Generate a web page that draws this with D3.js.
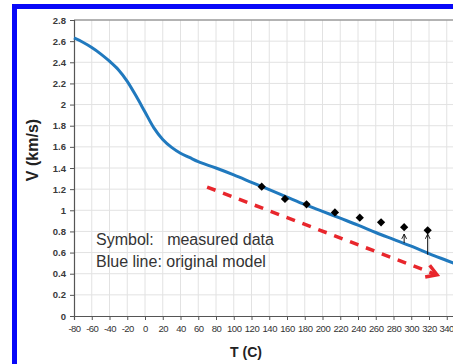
<!DOCTYPE html>
<html><head><meta charset="utf-8">
<script src="https://cdn.jsdelivr.net/npm/d3@7"></script>
<style>
html,body{margin:0;padding:0;background:#fff;}
svg{display:block;}
</style></head>
<body>
<svg id="c" width="453" height="364"></svg>
<script>
// ---- data ----
const modelT = [-80,-70,-60,-50,-40,-30,-20,-10,0,10,20,30,40,50,60,80,100,120,140,160,180,200,220,240,260,280,300,320,340,360];
const modelV = [2.63,2.59,2.54,2.48,2.41,2.33,2.22,2.08,1.93,1.78,1.67,1.595,1.54,1.50,1.46,1.40,1.335,1.265,1.195,1.125,1.055,0.99,0.925,0.86,0.79,0.725,0.66,0.59,0.525,0.46];
const measT = [131.5,157.7,182,214,242,266,292,318.5];
const measV = [1.223,1.107,1.056,0.98,0.93,0.886,0.84,0.81];
const arrowT = [292,318.5];
const arrowFromV = [0.69,0.58];
const arrowToV = [0.775,0.775];
const trendT = [70,329];
const trendV = [1.22,0.39];
const xTicks = [-80,-60,-40,-20,0,20,40,60,80,100,120,140,160,180,200,220,240,260,280,300,320,340];
const xTickLabels = ["-80","-60","-40","-20","0","20","40","60","80","100","120","140","160","180","200","220","240","260","280","300","320","340"];
const yTicks = [0,0.2,0.4,0.6,0.8,1,1.2,1.4,1.6,1.8,2,2.2,2.4,2.6,2.8];
const yTickLabels = ["0","0.2","0.4","0.6","0.8","1","1.2","1.4","1.6","1.8","2","2.2","2.4","2.6","2.8"];
const legendLines = ["Symbol:   measured data","Blue line: original model"];
const xTitle = "T (C)", yTitle = "V (km/s)";

const svg = d3.select("#c");
const x = d3.scaleLinear().domain([-80,360]).range([74, 74+440*0.8875]);
const y = d3.scaleLinear().domain([0,2.8]).range([316,20]);
const FONT = "Liberation Sans, Arial, sans-serif";

// blue frame
svg.append("rect").attr("x",12).attr("y",4).attr("width",5).attr("height",360).attr("fill","#0808f8");
svg.append("rect").attr("x",12).attr("y",4).attr("width",441).attr("height",5).attr("fill","#0808f8");

// grid
const g = svg.append("g");
g.selectAll(".vg").data(xTicks.slice(1)).join("line")
  .attr("x1",d=>x(d)).attr("x2",d=>x(d)).attr("y1",y(2.8)).attr("y2",y(0))
  .attr("stroke","#e2e2e2").attr("stroke-width",1);
g.selectAll(".hg").data(yTicks.slice(1)).join("line")
  .attr("x1",x(-80)).attr("x2",453).attr("y1",d=>y(d)).attr("y2",d=>y(d))
  .attr("stroke",d=>d===2.8?"#9a9a9a":"#e2e2e2").attr("stroke-width",d=>d===2.8?1.5:1);

// axes
const yAxis = d3.axisLeft(y).tickValues(yTicks).tickSize(4).tickPadding(4)
  .tickFormat((d,i)=>yTickLabels[i]);
const ya = svg.append("g").attr("transform",`translate(${x(-80)},0)`).call(yAxis);
ya.select(".domain").attr("stroke","#555").attr("stroke-width",1.2);
ya.selectAll(".tick line").attr("stroke","#555");
ya.selectAll("text").attr("font-family",FONT)
  .attr("font-size",9.5).attr("font-weight","bold").attr("fill","#3a3a3a");

const xAxis = d3.axisBottom(x).tickValues(xTicks).tickSize(4).tickPadding(5)
  .tickFormat((d,i)=>xTickLabels[i]);
const xa = svg.append("g").attr("transform",`translate(0,${y(0)})`).call(xAxis);
xa.select(".domain").attr("stroke","#555").attr("stroke-width",1.2);
xa.selectAll(".tick line").attr("stroke","#555");
xa.selectAll("text").attr("font-family",FONT)
  .attr("font-size",9.5).attr("fill","#333").attr("letter-spacing","-0.5px");
xa.selectAll(".tick").filter(d=>d===340).select("text")
  .attr("text-anchor","end").attr("dx",6.5);

// titles
svg.append("text").attr("x",246).attr("y",357).attr("text-anchor","middle")
  .attr("font-family",FONT).attr("font-size",14).attr("font-weight","bold")
  .attr("fill","#222").text(xTitle);
svg.append("text").attr("transform","translate(38,150) rotate(-90)").attr("text-anchor","middle")
  .attr("font-family",FONT).attr("font-size",16).attr("font-weight","bold")
  .attr("fill","#222").text(yTitle);

// model line
const line = d3.line().x(d=>x(d[0])).y(d=>y(d[1])).curve(d3.curveCatmullRom.alpha(0.5));
svg.append("path").datum(modelT.map((t,i)=>[t,modelV[i]]))
  .attr("d",line).attr("fill","none").attr("stroke","#2079be").attr("stroke-width",3);

// red dashed trend arrow
const x0 = x(trendT[0]), y0 = y(trendV[0]), x1 = x(trendT[1]), y1 = y(trendV[1]);
svg.append("line").attr("x1",x0).attr("y1",y0).attr("x2",x1-3).attr("y2",y1-1)
  .attr("stroke","#e8262c").attr("stroke-width",3.5).attr("stroke-dasharray","9,8");
const ang = Math.atan2(y1-y0, x1-x0);
const hl = 12, ha = 0.55;
svg.append("path")
  .attr("d",`M${x1-hl*Math.cos(ang-ha)},${y1-hl*Math.sin(ang-ha)} L${x1},${y1} L${x1-hl*Math.cos(ang+ha)},${y1-hl*Math.sin(ang+ha)}`)
  .attr("fill","none").attr("stroke","#e8262c").attr("stroke-width",3.5).attr("stroke-linejoin","miter");

// arrows from model to measurements
svg.append("defs").append("marker").attr("id","ah").attr("viewBox","0 0 10 10")
  .attr("refX",9).attr("refY",5).attr("markerWidth",6).attr("markerHeight",6)
  .attr("markerUnits","userSpaceOnUse").attr("orient","auto")
  .append("path").attr("d","M1,1 L9,5 L1,9").attr("fill","none").attr("stroke","#111").attr("stroke-width",1.5);
svg.selectAll(".arr").data(arrowT).join("line")
  .attr("x1",d=>x(d)).attr("x2",d=>x(d))
  .attr("y1",(d,i)=>y(arrowFromV[i])).attr("y2",(d,i)=>y(arrowToV[i]))
  .attr("stroke","#111").attr("stroke-width",1).attr("marker-end","url(#ah)");

// measured diamonds
svg.selectAll(".pt").data(measT).join("path")
  .attr("d",d3.symbol().type(d3.symbolSquare).size(34))
  .attr("transform",(d,i)=>`translate(${x(d)},${y(measV[i])}) rotate(45)`)
  .attr("fill","#000");

// legend text
svg.selectAll(".lg").data(legendLines).join("text")
  .attr("x",96).attr("y",(d,i)=>245+i*22)
  .attr("font-family",FONT).attr("font-size",16)
  .attr("fill","#333").style("white-space","pre").text(d=>d);
</script>
</body></html>
